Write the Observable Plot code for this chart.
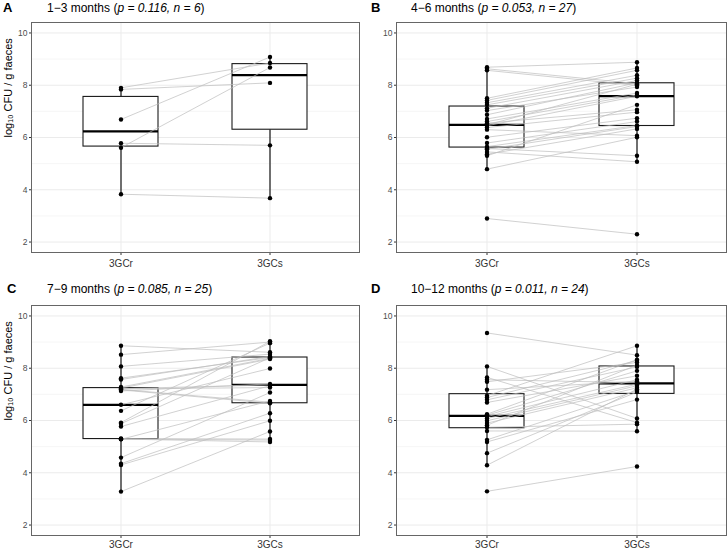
<!DOCTYPE html>
<html><head><meta charset="utf-8">
<script src="https://cdn.jsdelivr.net/npm/d3@7"></script>
<script src="https://cdn.jsdelivr.net/npm/@observablehq/plot@0.6"></script>
<style>
html,body{margin:0;padding:0;background:#fff;overflow:hidden;}
#root{position:relative;width:727px;height:549px;overflow:hidden;font-family:"Liberation Sans",Arial,Helvetica,sans-serif;}
.panel{position:absolute;}
.title{position:absolute;font-size:12px;line-height:14px;color:#000;white-space:nowrap;}
.letter{position:absolute;font-size:13px;font-weight:bold;line-height:14px;color:#000;}
svg [aria-label^="y-axis"] text{font-size:8.5px;fill:#4d4d4d;}
svg [aria-label^="x-axis"] text{font-size:10px;fill:#333;}
</style>
</head><body><div id="root"></div>
<script>
// ---- data ----
const groups = ["3GCr", "3GCs"];
const panelLetters = ["A", "B", "C", "D"];
const periods = ["1−3 months", "4−6 months", "7−9 months", "10−12 months"];
const pValues = ["0.116", "0.053", "0.085", "0.011"];
const nValues = [6, 27, 25, 24];
const yTicks = [2, 4, 6, 8, 10];
const yMinor = [3, 5, 7, 9];
const yTitle = "log₁₀ CFU / g faeces";

// paired values (same index = same subject)
const a3GCr = [7.90, 7.84, 6.69, 5.61, 5.78, 3.83];
const a3GCs = [8.85, 8.09, 9.08, 8.68, 5.70, 3.68];

const b3GCr = [8.69, 8.63, 8.57, 7.50, 7.42, 7.33, 7.25, 7.12, 7.03, 6.87, 6.71, 6.61, 6.55, 6.48,
  6.45, 6.38, 6.30, 6.01, 5.79, 5.65, 5.58, 5.55, 5.45, 5.36, 5.30, 4.79, 2.90];
const b3GCs = [8.88, 8.06, 7.99, 8.66, 8.57, 8.38, 8.27, 8.18, 7.93, 8.09, 7.70, 7.63, 7.06, 8.04,
  7.58, 6.97, 6.07, 6.74, 6.61, 6.46, 5.30, 6.42, 5.07, 6.33, 7.25, 6.01, 2.30];

const c3GCr = [8.86, 8.52, 8.07, 7.62, 7.57, 7.28, 7.24, 7.22, 7.21, 7.19, 7.17, 7.13, 6.60,
  6.37, 5.92, 5.88, 5.77, 5.31, 5.29, 5.29, 5.28, 4.58, 4.35, 4.30, 3.28];
const c3GCs = [8.61, 9.00, 8.54, 8.41, 8.45, 8.38, 8.35, 7.36, 7.26, 6.70, 6.66, 7.40, 7.99,
  8.96, 9.03, 8.40, 7.33, 5.29, 5.25, 5.18, 6.75, 7.07, 6.28, 5.99, 5.58];

const d3GCr = [9.35, 8.07, 7.65, 7.56, 7.48, 7.18, 6.95, 6.88, 6.79, 6.69, 6.24, 6.20, 6.15,
  6.08, 5.99, 5.90, 5.82, 5.74, 5.60, 5.26, 5.18, 4.75, 4.29, 3.29];
const d3GCs = [8.50, 6.08, 5.92, 7.45, 8.22, 7.50, 8.86, 8.29, 8.05, 7.71, 8.33, 7.90, 7.56,
  7.39, 7.33, 7.25, 8.12, 5.86, 5.59, 7.14, 6.80, 7.09, 7.20, 4.24];

const pairs = [[a3GCr, a3GCs], [b3GCr, b3GCs], [c3GCr, c3GCs], [d3GCr, d3GCs]];

// ---- helpers ----
function boxStats(group, vals) {
  const v = vals.slice().sort(d3.ascending);
  const q1 = d3.quantileSorted(v, 0.25), med = d3.quantileSorted(v, 0.5), q3 = d3.quantileSorted(v, 0.75);
  const iqr = q3 - q1;
  const lo = d3.min(v.filter(x => x >= q1 - 1.5 * iqr));
  const hi = d3.max(v.filter(x => x <= q3 + 1.5 * iqr));
  return {group, q1, med, q3, lo, hi};
}

const root = document.getElementById("root");
const colLayout = [
  {left: 0, width: 364, ml: 31, mr: 5},
  {left: 364, width: 363, ml: 32, mr: 1}
];
const rowLayout = [
  {titleTop: 1, svgTop: 20, pad: 4},
  {titleTop: 282, svgTop: 303, pad: 2}
];
const letterX = [3, 7, 7, 7];

panelLetters.forEach((letter, k) => {
  const col = colLayout[k % 2], row = rowLayout[Math.floor(k / 2)];
  const [r, s] = pairs[k];
  const rows = [];
  r.forEach((v, i) => {
    rows.push({id: i, group: groups[0], value: v});
    rows.push({id: i, group: groups[1], value: s[i]});
  });
  const stats = [boxStats(groups[0], r), boxStats(groups[1], s)];

  const L = document.createElement("div");
  L.className = "letter";
  L.style.left = (col.left + letterX[k]) + "px";
  L.style.top = row.titleTop + "px";
  L.textContent = letter;
  root.appendChild(L);

  const T = document.createElement("div");
  T.className = "title";
  T.style.left = (col.left + 47) + "px";
  T.style.top = row.titleTop + "px";
  T.append(periods[k] + " (");
  const it = document.createElement("i");
  it.textContent = `p = ${pValues[k]}, n = ${nValues[k]}`;
  T.append(it, ")");
  root.appendChild(T);

  const showY = k % 2 === 0;
  const chart = Plot.plot({
    width: col.width, height: 252,
    marginTop: 2, marginBottom: 20, marginLeft: col.ml, marginRight: col.mr,
    style: {fontFamily: '"Liberation Sans", Arial, sans-serif', fontSize: "10px", color: "#333", background: "transparent"},
    x: {type: "band", domain: groups, paddingInner: 0.5, paddingOuter: 0.35, align: 0.5, label: null, tickSize: 3, tickPadding: row.pad},
    y: {domain: [1.6, 10.4], ticks: yTicks, tickFormat: d => String(d), tickSize: 2, tickPadding: 2, label: null},
    marks: [
      Plot.ruleY(yMinor, {stroke: "#f2f2f2", strokeWidth: 0.7}),
      Plot.ruleY(yTicks, {stroke: "#ebebeb", strokeWidth: 1}),
      Plot.ruleX(groups, {stroke: "#ebebeb", strokeWidth: 1}),
      Plot.ruleX(stats, {x: "group", y1: "lo", y2: "q1", stroke: "#000", strokeWidth: 1.1}),
      Plot.ruleX(stats, {x: "group", y1: "q3", y2: "hi", stroke: "#000", strokeWidth: 1.1}),
      Plot.barY(stats, {x: "group", y1: "q1", y2: "q3", fill: "#fff", stroke: "#1a1a1a", strokeWidth: 1.1}),
      Plot.tickY(stats, {x: "group", y: "med", stroke: "#000", strokeWidth: 2.2}),
      Plot.line(rows, {x: "group", y: "value", z: "id", stroke: "#bdbdbd", strokeWidth: 0.7}),
      Plot.dot(rows, {x: "group", y: "value", r: 2.2, fill: "#000"}),
      Plot.frame({stroke: "#666", strokeWidth: 1}),
      ...(showY ? [Plot.text([yTitle], {text: d => d, frameAnchor: "left", dx: -23, rotate: -90, fontSize: 11, fill: "#000"})] : [])
    ]
  });
  const wrap = document.createElement("div");
  wrap.className = "panel";
  wrap.style.left = col.left + "px";
  wrap.style.top = row.svgTop + "px";
  wrap.appendChild(chart);
  root.appendChild(wrap);
});
</script>
</body></html>
